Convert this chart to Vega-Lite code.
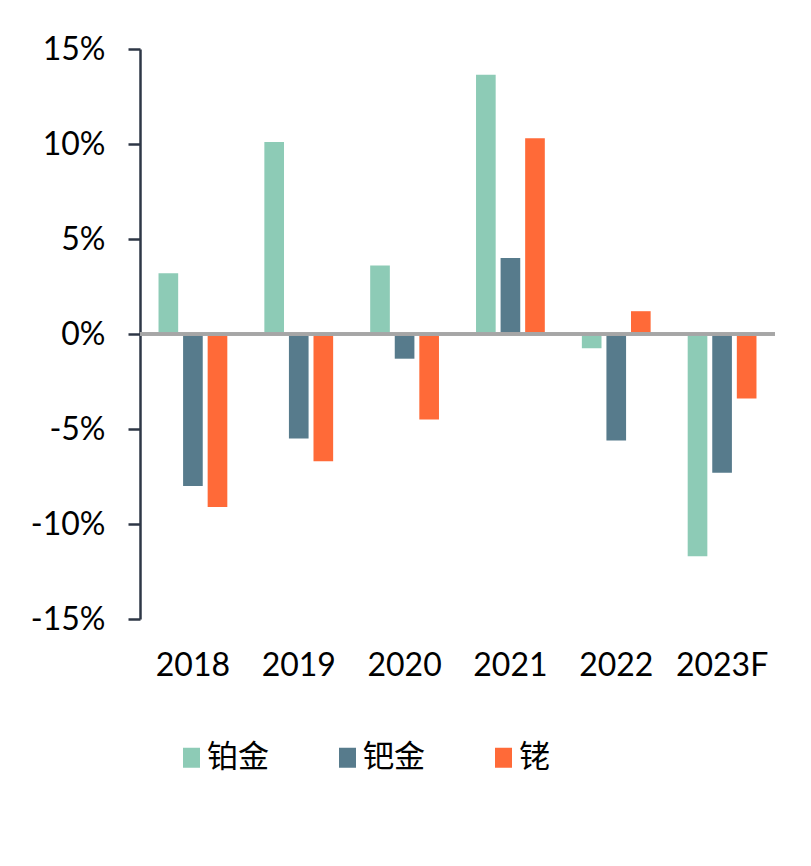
{
  "$schema": "https://vega.github.io/schema/vega-lite/v6.json",
  "autosize": "none",
  "width": 635,
  "height": 570,
  "padding": {"left": 140, "top": 49, "right": 36, "bottom": 247},
  "background": "white",
  "config": {"view": {"stroke": null}},
  "data": {
    "values": [
      {"year": "2018", "metal": "铂金", "value": 3.2},
      {"year": "2018", "metal": "钯金", "value": -8.0},
      {"year": "2018", "metal": "铑", "value": -9.1},
      {"year": "2019", "metal": "铂金", "value": 10.1},
      {"year": "2019", "metal": "钯金", "value": -5.5},
      {"year": "2019", "metal": "铑", "value": -6.7},
      {"year": "2020", "metal": "铂金", "value": 3.6},
      {"year": "2020", "metal": "钯金", "value": -1.3},
      {"year": "2020", "metal": "铑", "value": -4.5},
      {"year": "2021", "metal": "铂金", "value": 13.65},
      {"year": "2021", "metal": "钯金", "value": 4.0},
      {"year": "2021", "metal": "铑", "value": 10.3},
      {"year": "2022", "metal": "铂金", "value": -0.75},
      {"year": "2022", "metal": "钯金", "value": -5.6},
      {"year": "2022", "metal": "铑", "value": 1.2},
      {"year": "2023F", "metal": "铂金", "value": -11.7},
      {"year": "2023F", "metal": "钯金", "value": -7.3},
      {"year": "2023F", "metal": "铑", "value": -3.4}
    ]
  },
  "layer": [
    {
      "mark": {"type": "bar"},
      "encoding": {
        "x": {
          "field": "year", "type": "nominal", "sort": null,
          "scale": {"paddingInner": 0.35, "paddingOuter": 0.175},
          "axis": {
            "title": null, "domain": false, "ticks": false, "labelAngle": 0,
            "labelPadding": 31, "labelFont": "Lato", "labelFontSize": 32, "labelColor": "#000000"
          }
        },
        "xOffset": {
          "field": "metal", "type": "nominal", "sort": ["铂金", "钯金", "铑"],
          "scale": {"paddingInner": 0.2, "paddingOuter": 0}
        },
        "y": {
          "field": "value", "type": "quantitative",
          "scale": {"domain": [-15, 15], "nice": false, "zero": false},
          "axis": {
            "title": null, "values": [-15, -10, -5, 0, 5, 10, 15], "grid": false,
            "labelExpr": "datum.value + '%'",
            "labelFont": "Lato", "labelFontSize": 32, "labelColor": "#000000", "labelPadding": 23,
            "domainColor": "#2E3746", "domainWidth": 2.5,
            "tickColor": "#2E3746", "tickWidth": 2.5, "tickSize": 12
          }
        },
        "color": {
          "field": "metal", "type": "nominal", "sort": ["铂金", "钯金", "铑"],
          "scale": {"domain": ["铂金", "钯金", "铑"], "range": ["#8DCBB6", "#577B8C", "#FF6A38"]},
          "legend": {
            "title": null, "orient": "none", "direction": "horizontal",
            "legendX": 36, "legendY": 693, "padding": 0,
            "symbolType": "M-0.85,-1H0.85V1H-0.85Z", "symbolSize": 400,
            "symbolStrokeWidth": 0, "symbolOpacity": 1,
            "labelFont": "Noto Sans CJK SC", "labelFontSize": 31, "labelColor": "#000000",
            "labelOffset": 0, "columnPadding": 63
          }
        }
      }
    },
    {
      "mark": {"type": "rule", "color": "#A6A6A6", "strokeWidth": 2.5},
      "encoding": {"y": {"datum": 0, "type": "quantitative"}}
    }
  ]
}
